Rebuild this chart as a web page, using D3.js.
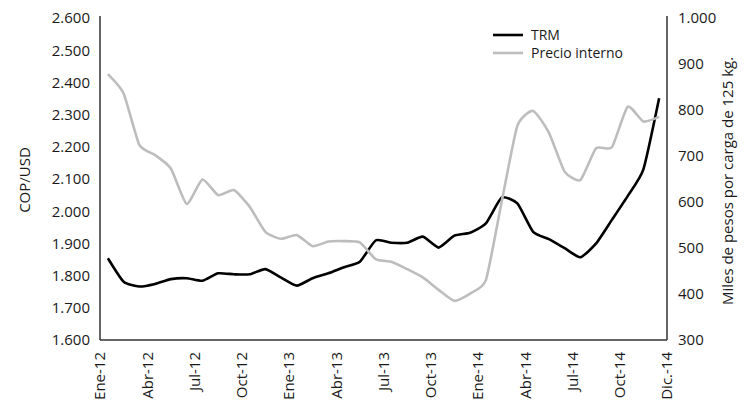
<!DOCTYPE html>
<html><head><meta charset="utf-8">
<script src="https://cdn.jsdelivr.net/npm/d3@7"></script>
<style>
body{margin:0;background:#fff;}
text{font-family:"Open Sans","Noto Sans",sans-serif;fill:#1a1a1a;}
</style></head>
<body><svg id="c" width="750" height="402"></svg>
<script>
const months = ["Ene-12","Feb-12","Mar-12","Abr-12","May-12","Jun-12","Jul-12","Ago-12","Sep-12","Oct-12","Nov-12","Dic-12",
"Ene-13","Feb-13","Mar-13","Abr-13","May-13","Jun-13","Jul-13","Ago-13","Sep-13","Oct-13","Nov-13","Dic-13",
"Ene-14","Feb-14","Mar-14","Abr-14","May-14","Jun-14","Jul-14","Ago-14","Sep-14","Oct-14","Nov-14","Dic.-14"];
const trm = [1854,1781,1766,1774,1789,1792,1784,1807,1804,1804,1820,1794,
1769,1792,1807,1826,1843,1909,1902,1902,1921,1887,1924,1933,
1962,2042,2024,1936,1913,1885,1857,1900,1973,2047,2130,2351];
const precio = [878,836,724,702,673,596,649,615,626,590,535,520,
528,504,514,515,512,476,470,454,436,409,385,401,
430,600,766,798,751,666,648,717,719,807,775,785];
const leftTicks = [1600,1700,1800,1900,2000,2100,2200,2300,2400,2500,2600];
const rightTicks = [300,400,500,600,700,800,900,1000];
const xLabels = ["Ene-12","Abr-12","Jul-12","Oct-12","Ene-13","Abr-13","Jul-13","Oct-13","Ene-14","Abr-14","Jul-14","Oct-14","Dic.-14"];
const seriesNames = ["TRM","Precio interno"];

const svg = d3.select("#c");
const L=100, R=667, T=18, B=340;
const FS = 15;
const x = d3.scaleBand().domain(months).range([L,R]);
const yL = d3.scaleLinear().domain([1600,2600]).range([B,T]);
const yR = d3.scaleLinear().domain([300,1000]).range([B,T]);
const thous = d => { const s = String(d); return s.length>3 ? s.slice(0,s.length-3)+"."+s.slice(-3) : s; };

const axL = svg.append("g").attr("transform",`translate(${L},0)`)
  .call(d3.axisLeft(yL).tickValues(leftTicks).tickSize(0).tickPadding(10).tickFormat(thous));
const axR = svg.append("g").attr("transform",`translate(${R},0)`)
  .call(d3.axisRight(yR).tickValues(rightTicks).tickSize(0).tickPadding(11).tickFormat(thous));
[axL,axR].forEach(a=>{a.select(".domain").attr("stroke","#111").attr("stroke-width",1.3).attr("d",`M0,${T-2}V${B}`);
  a.selectAll("text").attr("font-size",FS).attr("fill","#1a1a1a").attr("font-family","Open Sans");});

svg.append("line").attr("x1",L).attr("x2",R).attr("y1",B).attr("y2",B).attr("stroke","#333").attr("stroke-width",1.3);

const xg = svg.append("g");
xLabels.forEach(lbl=>{
  const px = lbl==="Dic.-14" ? x(lbl)+x.bandwidth() : x(lbl);
  xg.append("text").attr("transform",`translate(${px},${B+12}) rotate(-90)`)
    .attr("text-anchor","end").attr("dy","0.35em").attr("font-size",FS).text(lbl);
});

svg.append("text").attr("transform","translate(25,180) rotate(-90)").attr("text-anchor","middle").attr("dy","0.35em").attr("font-size",FS).text("COP/USD");
svg.append("text").attr("transform","translate(728,181) rotate(-90)").attr("text-anchor","middle").attr("dy","0.35em").attr("font-size",FS).text("Miles de pesos por carga de 125 kg.");

const cx = d => x(d)+x.bandwidth()/2;
const curve = d3.curveCardinal.tension(0.45);
const lineL = d3.line().x((d,i)=>cx(months[i])).y(d=>yL(d)).curve(curve);
const lineR = d3.line().x((d,i)=>cx(months[i])).y(d=>yR(d)).curve(curve);
svg.append("path").datum(trm).attr("d",lineL).attr("fill","none").attr("stroke","#000").attr("stroke-width",2.6).attr("stroke-linejoin","round");
svg.append("path").datum(precio).attr("d",lineR).attr("fill","none").attr("stroke","#bdbdbd").attr("stroke-width",2.6).attr("stroke-linejoin","round");

const lg = svg.append("g");
[["#000",35],["#bdbdbd",53]].forEach((s,i)=>{
  lg.append("line").attr("x1",493).attr("x2",523).attr("y1",s[1]).attr("y2",s[1]).attr("stroke",s[0]).attr("stroke-width",2.6);
  lg.append("text").attr("x",531).attr("y",s[1]).attr("dy","0.35em").attr("font-size",14).text(seriesNames[i]);
});
</script></body></html>
